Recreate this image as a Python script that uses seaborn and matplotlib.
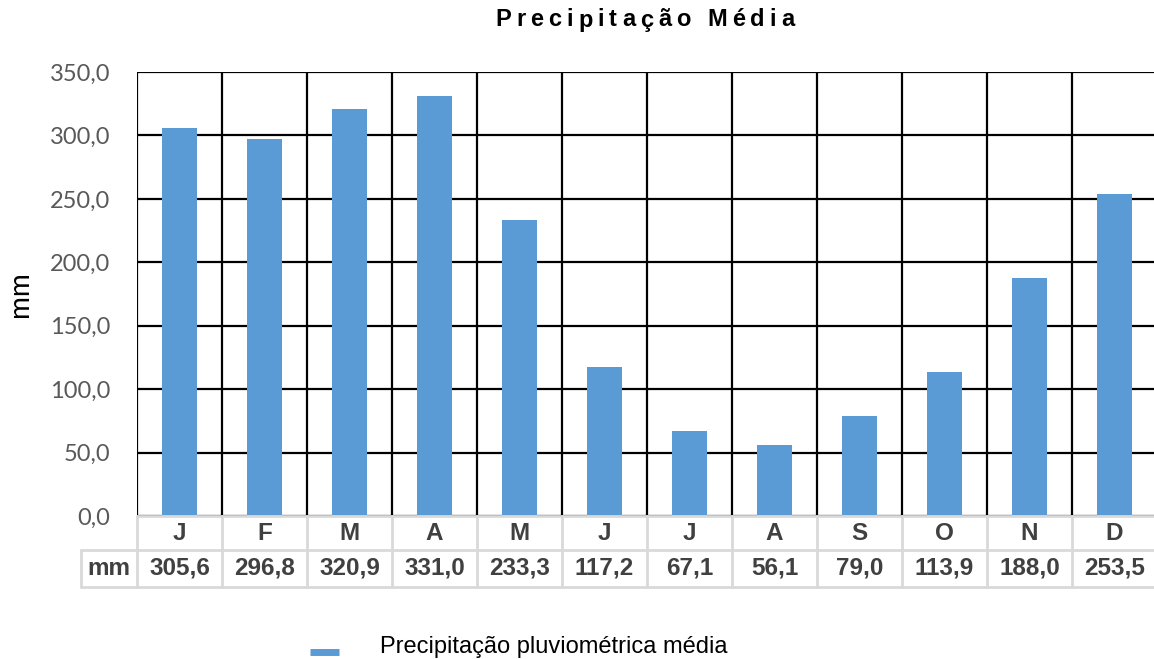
import matplotlib
matplotlib.use("Agg")
import matplotlib.pyplot as plt
import matplotlib.transforms as mtransforms
import seaborn as sns
import pandas as pd

# Monthly mean precipitation (mm)
months = ["J", "F", "M", "A", "M", "J", "J", "A", "S", "O", "N", "D"]
precip = [305.6, 296.8, 320.9, 331.0, 233.3, 117.2, 67.1, 56.1, 79.0, 113.9, 188.0, 253.5]
yticks = [0, 50, 100, 150, 200, 250, 300, 350]

title = "Precipitação Média"
series_name = "Precipitação pluviométrica média"
unit = "mm"

bar_color = "#5B9BD5"
grid_color = "#000000"
table_color = "#D9D9D9"
text_dark = "#404040"
tick_color = "#595959"

sns.set_theme(style="white")
plt.rcParams["font.family"] = ["Liberation Sans", "DejaVu Sans"]

W, H = 1154, 659
fig = plt.figure(figsize=(W / 100, H / 100), dpi=100)
ax = fig.add_axes([137 / W, 1 - 516 / H, (1157 - 137) / W, (516 - 72) / H])

df = pd.DataFrame({"pos": range(len(months)), "val": precip})
sns.barplot(data=df, x="pos", y="val", color=bar_color, saturation=1,
            width=0.42, ax=ax, edgecolor="none")

ax.set_xlim(-0.5, len(months) - 0.5)
ax.set_ylim(0, 350)
ax.set_yticks(yticks)
ax.set_yticklabels([f"{v:.1f}".replace(".", ",") for v in yticks],
                   fontsize=17, color=tick_color, family=["Lato", "DejaVu Sans"])
ax.tick_params(axis="y", length=0, pad=19)
ax.set_xticks([])
ax.set_xlabel("")
ax.set_ylabel(unit, fontsize=20, color="black", family=["Lato", "DejaVu Sans"])
ax.yaxis.set_label_coords(-(137 - 33) / (1157 - 137), 0.5)

# black grid: horizontal at ticks, vertical at category boundaries
for v in yticks:
    ax.axhline(v, color=grid_color, lw=1.6, zorder=0)
for i in range(len(months) + 1):
    ax.axvline(i - 0.5, color=grid_color, lw=1.6, zorder=0)
for s in ax.spines.values():
    s.set_visible(False)

# data table under the plot
trans = mtransforms.blended_transform_factory(ax.transData, fig.transFigure)
y0, y1, y2 = 1 - 516 / H, 1 - 550 / H, 1 - 587 / H
x_left = -0.5
x_hdr = -0.5 - (137 - 81) / 85.0
x_right = len(months) - 0.5
tbl = dict(color=table_color, lw=2.0, transform=trans, clip_on=False, zorder=1)
ax.plot([x_left, x_right], [y0, y0], **tbl)
ax.plot([x_hdr, x_right], [y1, y1], **tbl)
ax.plot([x_hdr, x_right], [y2, y2], **tbl)
ax.plot([x_hdr, x_hdr], [y1, y2], **tbl)
for i in range(len(months) + 1):
    ax.plot([i - 0.5, i - 0.5], [y0, y2], **tbl)

cell_kw = dict(transform=trans, ha="center", va="center", fontsize=17.5,
               fontweight="bold", color=text_dark)
for i, (m, v) in enumerate(zip(months, precip)):
    ax.text(i, (y0 + y1) / 2, m, **cell_kw)
    ax.text(i, (y1 + y2) / 2, f"{v:.1f}".replace(".", ","), **cell_kw)
ax.text((x_hdr + x_left) / 2, (y1 + y2) / 2, unit, **cell_kw)

# letter-spaced bold title
fig.canvas.draw()
renderer = fig.canvas.get_renderer()
title_size = 17
spacing = 5.0
widths = []
for ch in title:
    t = fig.text(0, 0, ch if ch != " " else "a", fontsize=title_size, fontweight="bold")
    bb = t.get_window_extent(renderer)
    widths.append(bb.width if ch != " " else bb.width * 0.5)
    t.remove()
total = sum(widths) + spacing * (len(title) - 1)
x = 645 - total / 2
for ch, w in zip(title, widths):
    fig.text(x / W, 1 - 20 / H, ch, fontsize=title_size, fontweight="bold",
             color="black", ha="left", va="center")
    x += w + spacing

# legend entry
fig.add_artist(plt.Line2D([310 / W, 339 / W], [1 - 652 / H, 1 - 652 / H],
                          color=bar_color, lw=5, solid_capstyle="butt"))
fig.text(380 / W, 1 - 647 / H, series_name, fontsize=17, color="black",
         ha="left", va="center")

fig.savefig("out.png", dpi=100)
